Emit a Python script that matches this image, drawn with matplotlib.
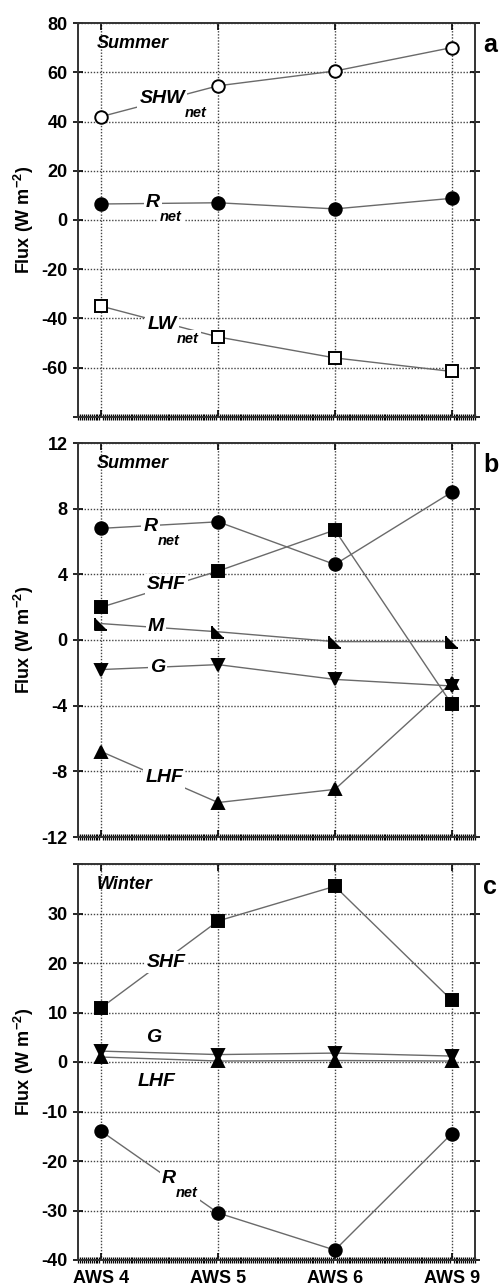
"""Surface energy flux components at four AWS sites (summer / winter)."""

import matplotlib

matplotlib.use("Agg")
import matplotlib.pyplot as plt
from matplotlib.ticker import MultipleLocator, FixedLocator

plt.rcParams.update(
    {
        "font.family": ["Liberation Sans", "DejaVu Sans"],
        "font.weight": "bold",
        "font.size": 13,
        "axes.linewidth": 1.4,
        "axes.edgecolor": "#333333",
        "mathtext.fontset": "custom",
        "mathtext.rm": "Liberation Sans:bold",
        "mathtext.bf": "Liberation Sans:bold",
    }
)

STATIONS = ["AWS 4", "AWS 5", "AWS 6", "AWS 9"]

# panel a: summer radiation
a_shw_net = [42.0, 54.5, 60.5, 70.0]
a_r_net = [6.5, 7.0, 4.5, 8.8]
a_lw_net = [-35.0, -47.5, -56.0, -61.5]

# panel b: summer energy balance
b_r_net = [6.8, 7.2, 4.6, 9.0]
b_shf = [2.0, 4.2, 6.7, -3.9]
b_m = [1.0, 0.5, -0.1, -0.1]
b_g = [-1.8, -1.5, -2.4, -2.8]
b_lhf = [-6.8, -9.9, -9.1, -2.6]

# panel c: winter energy balance
c_shf = [11.0, 28.5, 35.5, 12.5]
c_g = [2.2, 1.5, 1.8, 1.2]
c_lhf = [1.0, 0.2, 0.3, 0.2]
c_r_net = [-14.0, -30.5, -38.0, -14.5]

LINE = "#6a6a6a"
RIGHT_TRI = [(-1, 1), (-1, -1), (1, -1)]  # lower-left right triangle marker

FIG_W, FIG_H = 501, 1287
WHITE_BOX = dict(facecolor="white", edgecolor="none", pad=1.5)


def _series(ax, y, marker, face="black", ms=9):
    x = list(range(len(STATIONS)))
    ax.plot(x, y, color=LINE, lw=1.0, zorder=3)
    ax.plot(x, y, ls="none", marker=marker, ms=ms, mfc=face, mec="black",
            mew=1.4, zorder=5, clip_on=False)


def _label(ax, x, y, txt, sub=None):
    t = ax.text(x, y, txt, ha="center", va="center", style="italic",
                fontweight="bold", fontsize=14, zorder=4, bbox=WHITE_BOX)
    if sub:
        ax.annotate(sub, xy=(1.0, 0.05), xycoords=t, xytext=(0, 0),
                    textcoords="offset points", ha="left", va="top",
                    style="italic", fontweight="bold", fontsize=10.5,
                    zorder=4, bbox=WHITE_BOX)


def _style(ax, ylim, major, hide, season, bottom_labels):
    ax.set_xlim(-0.2, 3.2)
    ax.set_ylim(*ylim)
    ax.xaxis.set_major_locator(FixedLocator(range(len(STATIONS))))
    ax.xaxis.set_minor_locator(MultipleLocator(1 / 60))
    ax.yaxis.set_major_locator(MultipleLocator(major))
    ax.grid(True, which="major", color="#444444", lw=1.0, ls=(0, (1, 1.2)),
            zorder=1)
    ax.tick_params(axis="y", which="major", direction="inout", length=7,
                   width=1.2, right=True, pad=4, labelsize=13)
    ax.tick_params(axis="x", which="major", direction="in", length=5,
                   width=1.2, top=True, pad=7, labelsize=13)
    ax.tick_params(axis="x", which="minor", direction="inout", length=4,
                   width=0.9, top=False)
    if bottom_labels:
        ax.set_xticklabels(STATIONS, fontweight="bold")
    else:
        ax.set_xticklabels([])
    ticks = [t for t in ax.get_yticks() if ylim[0] <= t <= ylim[1]]
    ax.set_yticks(ticks)
    ax.set_yticklabels(["" if t in hide else f"{t:g}" for t in ticks],
                       fontweight="bold")
    ax.set_ylabel("Flux (W m$^{\\mathbf{-2}}$)", fontweight="bold", fontsize=13)
    ax.yaxis.set_label_coords(-0.105, 0.5)
    ax.text(0.048, 0.948, season, transform=ax.transAxes, ha="left",
            va="center", style="italic", fontweight="bold", fontsize=13)


fig = plt.figure(figsize=(FIG_W / 100, FIG_H / 100), dpi=100)
left, width = 78 / FIG_W, 397 / FIG_W
ax_a = fig.add_axes([left, (FIG_H - 417) / FIG_H, width, 394 / FIG_H])
ax_b = fig.add_axes([left, (FIG_H - 837) / FIG_H, width, 394 / FIG_H])
ax_c = fig.add_axes([left, (FIG_H - 1260) / FIG_H, width, 396 / FIG_H])

# a
_series(ax_a, a_shw_net, "o", face="white")
_series(ax_a, a_r_net, "o")
_series(ax_a, a_lw_net, "s", face="white")
_label(ax_a, 0.52, 49.5, "SHW", "net")
_label(ax_a, 0.44, 7.0, "R", "net")
_label(ax_a, 0.52, -42.5, "LW", "net")
_style(ax_a, (-80, 80), 20, {-80}, "Summer", False)

# b
_series(ax_b, b_r_net, "o")
_series(ax_b, b_shf, "s")
_series(ax_b, b_m, RIGHT_TRI, ms=8)
_series(ax_b, b_g, "v", ms=8)
_series(ax_b, b_lhf, "^", ms=8)
_label(ax_b, 0.42, 6.9, "R", "net")
_label(ax_b, 0.56, 3.4, "SHF")
_label(ax_b, 0.47, 0.85, "M")
_label(ax_b, 0.48, -1.7, "G")
_label(ax_b, 0.54, -8.4, "LHF")
_style(ax_b, (-12, 12), 4, set(), "Summer", False)

# c
_series(ax_c, c_shf, "s")
_series(ax_c, c_g, "v", ms=8)
_series(ax_c, c_lhf, "^", ms=8)
_series(ax_c, c_r_net, "o")
_label(ax_c, 0.56, 20.2, "SHF")
_label(ax_c, 0.45, 5.0, "G")
_label(ax_c, 0.47, -3.9, "LHF")
_label(ax_c, 0.58, -23.5, "R", "net")
_style(ax_c, (-40, 40), 10, {40}, "Winter", True)

for letter, ypix in (("a", 45), ("b", 465), ("c", 887)):
    fig.text(483 / FIG_W, 1 - ypix / FIG_H, letter, ha="left", va="center",
             fontsize=18, fontweight="bold")

fig.savefig("out.png", dpi=100)
